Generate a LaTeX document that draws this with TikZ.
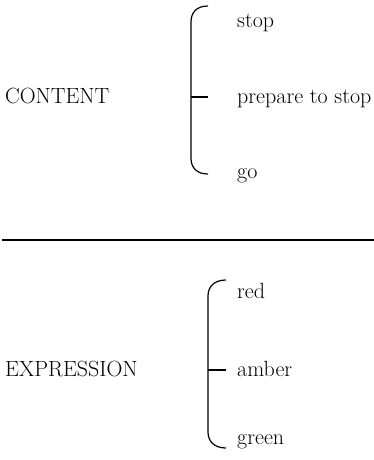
\documentclass[tikz,border=0pt]{standalone}
\begin{document}
\begin{tikzpicture}[x=1pt,y=-1pt,
  lbl/.style={anchor=base west,inner sep=0pt,font=\fontsize{22}{26}\selectfont},
  brace/.style={line width=1.2pt},
  rule/.style={line width=2pt}]
\useasboundingbox (0,0) rectangle (374,460);
% top group
\node[lbl] (content) at (5,103) {CONTENT};
\node[lbl] (stop) at (237,28) {stop};
\node[lbl] (prep) at (237,103) {prepare to stop};
\node[lbl] (go) at (237,178) {go};
\coordinate (t1) at (208,6);
\coordinate (t2) at (208,97);
\coordinate (t3) at (208,174);
\draw[brace] (t1) .. controls (197,6) and (191,12) .. (191,22) -- (191,158) .. controls (191,168) and (197,174) .. (t3);
\draw[brace] (191,97) -- (t2);
% rule
\coordinate (r1) at (2,240);
\coordinate (r2) at (374,240);
\draw[rule] (r1) -- (r2);
% bottom group
\node[lbl] (expr) at (5,376) {EXPRESSION};
\node[lbl] (red) at (237,298) {red};
\node[lbl] (amber) at (237,376) {amber};
\node[lbl] (green) at (237,444) {green};
\coordinate (b1) at (226,280);
\coordinate (b2) at (226,370);
\coordinate (b3) at (226,448);
\draw[brace] (b1) .. controls (215,280) and (208,286) .. (208,296) -- (208,432) .. controls (208,442) and (215,448) .. (b3);
\draw[brace] (208,370) -- (b2);
\end{tikzpicture}
\end{document}
